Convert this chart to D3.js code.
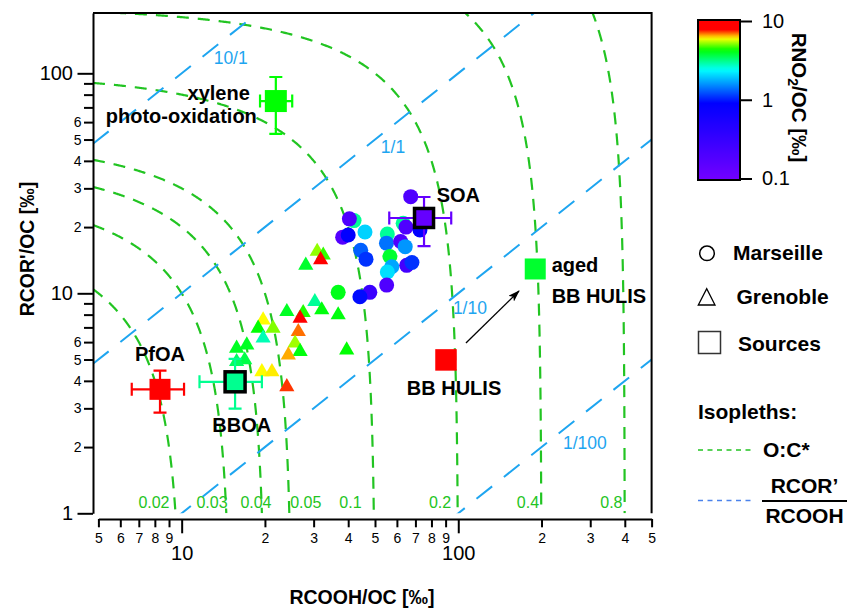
<!DOCTYPE html>
<html>
<head>
<meta charset="utf-8">
<script src="https://cdn.jsdelivr.net/npm/d3@7"></script>
<style>
body { margin: 0; background: #fff; }
text { font-family: Arial, "Liberation Sans", Helvetica, sans-serif; }
</style>
</head>
<body>
<svg id="chart" width="848" height="609"></svg>
<script>
// isopleths
var ocLevels = [0.02, 0.03, 0.04, 0.05, 0.1, 0.2, 0.4, 0.8]
var ocLabelX = [7.94, 12.87, 18.56, 28.1, 40.76, 85.9, 178.6, 357.8]
var ratioLevels = [10, 1, 0.1, 0.01]
var ratioLabels = ["10/1", "1/1", "1/10", "1/100"]
var ratioLabelX = [15.04, 58.1, 110.2, 287]
var ratioLabelY = [117, 46.2, 8.55, 2.09]

// Marseille (circles): RCOOH/OC, RCOR'/OC, RNO2/OC  [permil]
var marseilleCOOH = [42.0, 40.4, 46.0, 38.2, 40.0, 44.4, 46.4, 55.4, 55.0, 61.9, 64.3, 56.6, 57.5, 55.4, 65.1, 68.0, 55.1, 36.8, 47.9, 44.1, 63.2, 64.7, 72.7, 67.3]
var marseilleCOR  = [21.4, 21.8, 19.0, 18.0, 18.4, 15.7, 14.3, 18.6, 16.9, 17.2, 16.3, 14.7, 13.2, 12.5, 13.4, 13.8, 10.9, 10.1, 10.1, 9.65, 20.8, 20.0, 19.4, 27.5]
var marseilleNO2  = [3.0, 0.2, 2.0, 0.18, 0.9, 1.3, 1.1, 3.0, 1.4, 0.2, 1.6, 3.8, 1.7, 2.1, 0.25, 1.1, 0.2, 4.0, 0.3, 0.95, 3.0, 0.2, 0.9, 0.2]

// Grenoble (triangles)
var grenobleCOOH = [28.1, 30.9, 32.5, 31.8, 30.3, 24.0, 27.5, 32.1, 36.8, 26.8, 26.4, 19.7, 18.9, 21.4, 19.7, 25.7, 26.8, 24.3, 15.8, 17.2, 16.9, 15.8, 19.5, 21.2, 24.0, 39.5]
var grenobleCOR  = [13.4, 15.5, 14.9, 14.2, 9.16, 8.25, 8.16, 8.4, 7.97, 7.7, 6.69, 7.56, 6.93, 6.93, 6.25, 5.93, 5.43, 5.24, 5.62, 5.82, 4.98, 4.89, 4.4, 4.4, 3.76, 5.52]
var grenobleNO2  = [3.8, 5.1, 4.5, 9.0, 3.0, 3.9, 4.4, 4.1, 4.1, 9.0, 6.8, 5.9, 4.2, 5.0, 2.8, 5.2, 4.1, 6.4, 3.9, 3.9, 3.6, 3.4, 5.9, 6.0, 7.2, 4.2]

// sources (squares)
var sourceLabels = [["xylene", "photo-oxidation"], ["SOA"], ["PfOA"], ["BBOA"], ["BB HULIS"], ["aged", "BB HULIS"]]
var sourceCOOH   = [21.9, 75.2, 8.35, 15.6, 90.3, 189.8]
var sourceCOR    = [74.8, 22.0, 3.66, 3.96, 4.98, 12.9]
var sourceCOOHLo = [19.2, 56.3, 6.6, 11.6, null, null]
var sourceCOOHHi = [25.1, 94.3, 10.2, 19.5, null, null]
var sourceCORLo  = [53.0, 16.4, 2.87, 2.99, null, null]
var sourceCORHi  = [96.2, 27.4, 4.45, 5.03, null, null]
var sourceNO2    = [4.2, 0.13, 10, 3.05, 10, 3.8]

// ageing arrow, from BB HULIS towards aged BB HULIS
var arrowFrom = [106.6, 5.94], arrowTo = [165.8, 10.24]

// axes
var xTickValues = [5, 6, 7, 8, 9, 10, 20, 30, 40, 50, 60, 70, 80, 90, 100, 200, 300, 400, 500]
var xTickLabels = ["5", "6", "7", "8", "9", "10", "2", "3", "4", "5", "6", "7", "8", "9", "100", "2", "3", "4", "5"]
var yTickValues = [1, 2, 3, 4, 5, 6, 7, 8, 9, 10, 20, 30, 40, 50, 60, 70, 80, 90, 100]
var yTickLabels = ["1", "2", "3", "4", "5", "6", "", "", "", "10", "2", "3", "4", "5", "6", "", "", "", "100"]
var majorTicks = [1, 10, 100]
var colorTickValues = [0.1, 1, 10]
var colorTickLabels = ["0.1", "1", "10"]

var svg = d3.select("#chart"),
    plot = { left: 93, top: 13, right: 651.6, bottom: 513.3 },
    green = "#22c422",
    blue = "#1ea5f0",
    x = d3.scaleLog().domain([5, 500]).range([98.4, 651.6]),
    y = d3.scaleLog().domain([1, 188]).range([513.3, 13]),
    color = d3.scaleLog()
        .domain([0.1, 0.912, 2.37, 4.22, 5.89, 7.59, 10])
        .range(["#7300ff", "#0000ff", "#00ffff", "#00ff00", "#ffff00", "#ff0000", "#ff0000"])
        .clamp(true),
    line = d3.line().x(d => x(d[0])).y(d => y(d[1]))

var defs = svg.append("defs")
defs.append("clipPath").attr("id", "clip").append("rect")
    .attr("x", plot.left).attr("y", plot.top)
    .attr("width", plot.right - plot.left).attr("height", plot.bottom - plot.top)

defs.append("marker").attr("id", "arrow")
    .attr("viewBox", "0 0 12 8").attr("refX", 11).attr("refY", 4)
    .attr("markerWidth", 12).attr("markerHeight", 8).attr("markerUnits", "userSpaceOnUse")
    .attr("orient", "auto")
    .append("path").attr("d", "M0,0 L12,4 L0,8 L3,4 Z").attr("fill", "#000")

// ---- isopleths
var iso = svg.append("g").attr("clip-path", "url(#clip)")
var xmin = x.invert(plot.left), xmax = x.invert(plot.right)

ocLevels.forEach(function (oc) {
    var c = oc * 1000, pts = [], n = 300,
        yTop = c - 2 * xmin, xBot = (c - 1) / 2
    for (var i = 0; i <= n; i++) {
        var xv = Math.pow(10, Math.log10(xmin) + (Math.log10(xBot) - Math.log10(xmin)) * i / n)
        pts.push([xv, c - 2 * xv])
        var yv = Math.pow(10, Math.log10(yTop) * i / n)
        pts.push([(c - yv) / 2, yv])
    }
    pts.sort((a, b) => a[0] - b[0])
    iso.append("path").attr("d", line(pts))
        .attr("fill", "none").attr("stroke", green)
        .attr("stroke-width", 2.2).attr("stroke-dasharray", "12,9")
})

ratioLevels.forEach(function (r) {
    iso.append("path").attr("d", line([[xmin, r * xmin], [xmax, r * xmax]]))
        .attr("fill", "none").attr("stroke", blue)
        .attr("stroke-width", 2).attr("stroke-dasharray", "20,15")
})

svg.append("g").selectAll("text").data(ratioLabels).join("text")
    .attr("x", (d, i) => x(ratioLabelX[i]))
    .attr("y", (d, i) => y(ratioLabelY[i]))
    .attr("text-anchor", "middle").attr("dominant-baseline", "central")
    .attr("font-size", 17.5).attr("fill", blue)
    .text(d => d)

svg.append("g").selectAll("text").data(ocLevels).join("text")
    .attr("x", (d, i) => x(ocLabelX[i]))
    .attr("y", y(1.055))
    .attr("text-anchor", "middle")
    .attr("font-size", 16).attr("fill", green)
    .text(d => d)

// ---- frame and axes
svg.append("path")
    .attr("d", "M" + plot.left + "," + plot.top + "H" + plot.right + "V" + plot.bottom)
    .attr("fill", "none").attr("stroke", "#000").attr("stroke-width", 2)

var yAxis = svg.append("g").attr("transform", "translate(" + plot.left + ",0)")
    .call(d3.axisLeft(y).tickValues(yTickValues).tickSizeOuter(0)
        .tickFormat((d, i) => yTickLabels[i]))
yAxis.select(".domain").attr("stroke-width", 2)
yAxis.selectAll(".tick line").attr("stroke-width", 2)
    .attr("x2", d => majorTicks.includes(d) ? -15.5 : -9)
yAxis.selectAll(".tick text")
    .attr("x", d => majorTicks.includes(d) ? -20 : -11.5)
    .attr("font-size", d => majorTicks.includes(d) ? 20 : 14)
    .attr("font-family", null).attr("fill", "#000")

var xAxis = svg.append("g").attr("transform", "translate(0,519)")
    .call(d3.axisBottom(x).tickValues(xTickValues).tickSizeOuter(0)
        .tickFormat((d, i) => xTickLabels[i]))
xAxis.select(".domain").attr("stroke-width", 2)
xAxis.selectAll(".tick line").attr("stroke-width", 2)
    .attr("y2", d => majorTicks.includes(d) ? 14.3 : 8.3)
xAxis.selectAll(".tick text")
    .attr("dy", null)
    .attr("y", d => majorTicks.includes(d) ? 41 : 24.3)
    .attr("font-size", d => majorTicks.includes(d) ? 20 : 14)
    .attr("font-family", null).attr("fill", "#000")

svg.append("text").attr("transform", "translate(34,249) rotate(-90)")
    .attr("text-anchor", "middle").attr("font-size", 19.5).attr("font-weight", "bold")
    .text("RCOR'/OC [‰]")
svg.append("text").attr("x", 362).attr("y", 604)
    .attr("text-anchor", "middle").attr("font-size", 19.5).attr("font-weight", "bold")
    .text("RCOOH/OC [‰]")

// ---- samples
var marks = svg.append("g")
marks.selectAll("circle").data(marseilleCOOH).join("circle")
    .attr("cx", d => x(d))
    .attr("cy", (d, i) => y(marseilleCOR[i]))
    .attr("r", 7.5)
    .attr("fill", (d, i) => color(marseilleNO2[i]))

marks.selectAll(".tri").data(grenobleCOOH).join("path").attr("class", "tri")
    .attr("d", d3.symbol(d3.symbolTriangle, 100))
    .attr("transform", (d, i) => "translate(" + x(d) + "," + y(grenobleCOR[i]) + ")")
    .attr("fill", (d, i) => color(grenobleNO2[i]))

// ---- sources
var outlined = [false, true, false, true, false, false],
    squareSize = [22, 22.5, 21, 23.5, 21.5, 21],
    labelPlace = [
        { anchor: "end", dx: [-26, -19], dy: [-1, 22] },
        { anchor: "start", dx: [12.7], dy: [-16.3] },
        { anchor: "middle", dx: [0], dy: [-28.3] },
        { anchor: "middle", dx: [6.7], dy: [50] },
        { anchor: "middle", dx: [8], dy: [35] },
        { anchor: "start", dx: [16.4, 16.4], dy: [3.3, 34.3] }
    ]

var src = svg.append("g")
sourceCOOH.forEach(function (cx, i) {
    var px = x(cx), py = y(sourceCOR[i]), col = color(sourceNO2[i]), cap = 6.5
    if (sourceCOOHLo[i] != null) {
        var x0 = x(sourceCOOHLo[i]), x1 = x(sourceCOOHHi[i]),
            y0 = y(sourceCORLo[i]), y1 = y(sourceCORHi[i])
        var p = "M" + x0 + "," + py + "H" + x1 +
            "M" + x0 + "," + (py - cap) + "V" + (py + cap) +
            "M" + x1 + "," + (py - cap) + "V" + (py + cap) +
            "M" + px + "," + y0 + "V" + y1 +
            "M" + (px - cap) + "," + y0 + "H" + (px + cap) +
            "M" + (px - cap) + "," + y1 + "H" + (px + cap)
        src.append("path").attr("d", p).attr("fill", "none")
            .attr("stroke", col).attr("stroke-width", 2.2)
    }
    var s = squareSize[i], sq = src.append("rect")
        .attr("x", px - s / 2).attr("y", py - s / 2)
        .attr("width", s).attr("height", s)
        .attr("fill", col)
    if (outlined[i]) {
        sq.attr("x", px - s / 2 + 1.75).attr("y", py - s / 2 + 1.75)
            .attr("width", s - 3.5).attr("height", s - 3.5)
            .attr("stroke", "#000").attr("stroke-width", 3.5)
    }
    var lp = labelPlace[i]
    sourceLabels[i].forEach(function (t, k) {
        src.append("text").attr("x", px + lp.dx[k]).attr("y", py + lp.dy[k])
            .attr("text-anchor", lp.anchor)
            .attr("font-size", 20).attr("font-weight", "bold")
            .text(t)
    })
})

svg.append("line")
    .attr("x1", x(arrowFrom[0])).attr("y1", y(arrowFrom[1]))
    .attr("x2", x(arrowTo[0])).attr("y2", y(arrowTo[1]))
    .attr("stroke", "#000").attr("stroke-width", 1.3)
    .attr("marker-end", "url(#arrow)")

// ---- colour bar
var cb = { x: 698, y: 20, w: 42, h: 160 },
    cScale = d3.scaleLog().domain([0.1, 10]).range([cb.y + cb.h - 1.5, cb.y + 1])

var grad = defs.append("linearGradient").attr("id", "rainbow")
    .attr("x1", 0).attr("y1", 1).attr("x2", 0).attr("y2", 0)
grad.selectAll("stop").data(d3.range(0, 1.0001, 0.02)).join("stop")
    .attr("offset", d => d)
    .attr("stop-color", d => color(Math.pow(10, 2 * d - 1)))

svg.append("rect").attr("x", cb.x).attr("y", cb.y).attr("width", cb.w).attr("height", cb.h)
    .attr("fill", "url(#rainbow)").attr("stroke", "#000").attr("stroke-width", 2)

var cAxis = svg.append("g").attr("transform", "translate(" + (cb.x + cb.w) + ",0)")
    .call(d3.axisRight(cScale).tickValues(colorTickValues).tickSize(12).tickSizeOuter(0)
        .tickPadding(10).tickFormat((d, i) => colorTickLabels[i]))
cAxis.select(".domain").remove()
cAxis.selectAll(".tick line").attr("stroke-width", 2)
cAxis.selectAll(".tick text").attr("font-size", 20).attr("font-family", null).attr("fill", "#000")

var cTitle = svg.append("text").attr("transform", "translate(791.5,97.5) rotate(90)")
    .attr("text-anchor", "middle").attr("font-size", 20.5).attr("font-weight", "bold")
cTitle.append("tspan").text("RNO")
cTitle.append("tspan").attr("font-size", 14).attr("dy", 4).text("2")
cTitle.append("tspan").attr("dy", -4).text("/OC [‰]")

// ---- legend
var lg = svg.append("g")
lg.append("circle").attr("cx", 707).attr("cy", 253.3).attr("r", 7.3)
    .attr("fill", "none").attr("stroke", "#000").attr("stroke-width", 1.5)
lg.append("path").attr("d", "M698.3,305L715,305L706.7,288.7Z")
    .attr("fill", "none").attr("stroke", "#000").attr("stroke-width", 1.3)
lg.append("rect").attr("x", 698.5).attr("y", 331.5).attr("width", 22).attr("height", 22)
    .attr("fill", "none").attr("stroke", "#333").attr("stroke-width", 1.5)

var legendText = [["Marseille", 733, 260], ["Grenoble", 736.5, 304], ["Sources", 738, 350.7],
                  ["Isopleths:", 698, 419], ["O:C*", 763, 457.3]]
lg.selectAll("text.lt").data(legendText).join("text").attr("class", "lt")
    .attr("x", d => d[1]).attr("y", d => d[2])
    .attr("font-size", 21).attr("font-weight", "bold")
    .text(d => d[0])

lg.append("line").attr("x1", 698).attr("x2", 753).attr("y1", 450).attr("y2", 450)
    .attr("stroke", green).attr("stroke-width", 1.5).attr("stroke-dasharray", "5,4.5")
lg.append("line").attr("x1", 698).attr("x2", 753).attr("y1", 500.5).attr("y2", 500.5)
    .attr("stroke", "#4a82ec").attr("stroke-width", 1.5).attr("stroke-dasharray", "5,4.5")
lg.append("line").attr("x1", 762).attr("x2", 847).attr("y1", 501).attr("y2", 501)
    .attr("stroke", "#000").attr("stroke-width", 2)
lg.append("text").attr("x", 804.5).attr("y", 493.3).attr("text-anchor", "middle")
    .attr("font-size", 21).attr("font-weight", "bold").text("RCOR’")
lg.append("text").attr("x", 804.5).attr("y", 523.3).attr("text-anchor", "middle")
    .attr("font-size", 21).attr("font-weight", "bold").text("RCOOH")
</script>
</body>
</html>
